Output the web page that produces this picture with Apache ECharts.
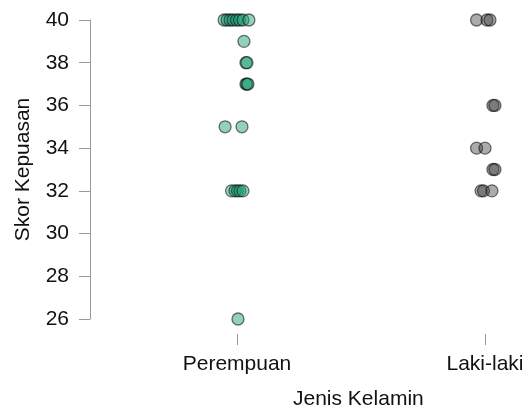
<!DOCTYPE html>
<html>
<head>
<meta charset="utf-8">
<script src="https://cdn.jsdelivr.net/npm/echarts@6/dist/echarts.min.js"></script>
<style>html,body{margin:0;padding:0;background:#fff}#c{width:524px;height:414px}</style>
</head>
<body>
<div id="c"></div>
<script>
const categories = ['Perempuan', 'Laki-laki'];
const yTicks = [26, 28, 30, 32, 34, 36, 38, 40];
// Perempuan
const femaleScores = [40, 40, 40, 40, 40, 40, 40, 40, 39, 38, 38, 37, 37, 37, 35, 35, 32, 32, 32, 32, 32, 26];
const femaleJitter = [-0.052, -0.040, -0.028, -0.016, -0.002, 0.010, 0.024, 0.048, 0.028, 0.036, 0.040, 0.036, 0.040, 0.044, -0.048, 0.020, -0.022, -0.008, 0.002, 0.012, 0.024, 0.004];
// Laki-laki
const maleScores = [40, 40, 40, 36, 36, 34, 34, 33, 33, 32, 32, 32];
const maleJitter = [-0.034, 0.008, 0.020, 0.032, 0.040, -0.034, 0.000, 0.032, 0.040, -0.016, -0.006, 0.028];

const pxPerUnit = 248;
const xMin = 1 - 147 / pxPerUnit;
const xMax = xMin + 432 / pxPerUnit;

function pts(catIndex, scores, jitter) {
  return scores.map((s, i) => [catIndex + 1 + jitter[i], s]);
}

const chart = echarts.init(document.getElementById('c'), null, {renderer: 'canvas'});
const font = 'Liberation Sans, Arial, Helvetica, sans-serif';
const txt = '#111';
chart.setOption({
  animation: false,
  grid: {left: 90, right: 2, top: 20, bottom: 95, containLabel: false, outerBoundsMode: 'none'},
  xAxis: {
    type: 'value', min: xMin, max: xMax, offset: 15,
    axisLine: {show: false},
    splitLine: {show: false},
    axisTick: {show: true, customValues: [1, 2], length: 11, lineStyle: {color: '#999', width: 1}},
    axisLabel: {customValues: [1, 2], margin: 20, fontSize: 21, color: txt, fontFamily: font,
      formatter: v => categories[Math.round(v) - 1] || ''}
  },
  yAxis: {
    type: 'value', min: 26, max: 40, interval: 2,
    name: 'Skor Kepuasan', nameLocation: 'middle', nameGap: 56,
    nameTextStyle: {fontSize: 21, color: txt, fontFamily: font},
    axisLine: {show: true, lineStyle: {color: '#999', width: 1}},
    splitLine: {show: false},
    axisTick: {show: true, length: 11, lineStyle: {color: '#999', width: 1}},
    axisLabel: {margin: 21, fontSize: 21, color: txt, fontFamily: font,
      formatter: v => yTicks.includes(v) ? String(v) : ''}
  },
  graphic: [{
    type: 'text', left: 360 - 67, top: 389,
    style: {text: 'Jenis Kelamin', fontSize: 21, fill: txt, fontFamily: font}
  }],
  series: [
    {type: 'scatter', data: pts(0, femaleScores, femaleJitter), symbolSize: 12,
      itemStyle: {color: 'rgba(27,158,119,0.6)', borderColor: 'rgba(10,10,10,0.7)', borderWidth: 1.3}},
    {type: 'scatter', data: pts(1, maleScores, maleJitter), symbolSize: 12,
      itemStyle: {color: 'rgba(64,64,64,0.55)', borderColor: 'rgba(10,10,10,0.7)', borderWidth: 1.3}}
  ]
});
</script>
</body>
</html>
